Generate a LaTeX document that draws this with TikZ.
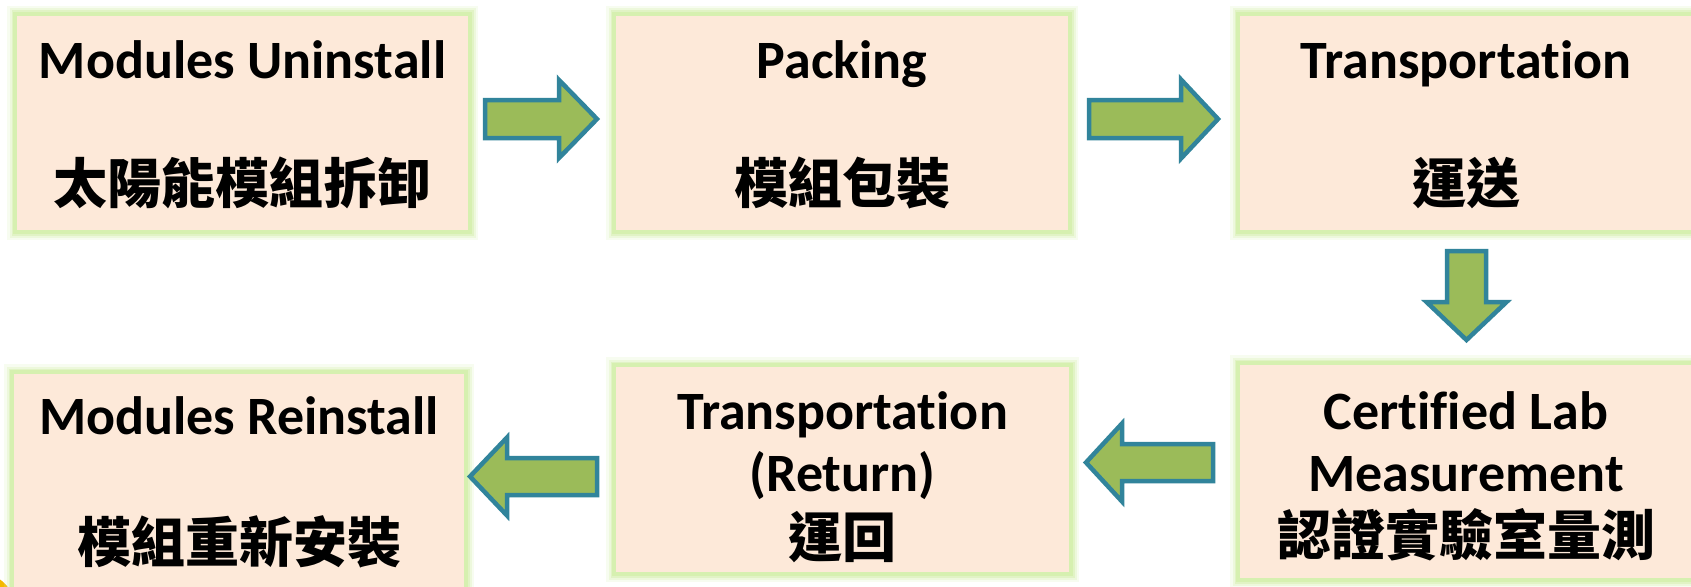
\documentclass[tikz,border=0pt]{standalone}
\usepackage{fontspec}
\setmainfont{Carlito}[Ligatures=NoCommon]
\newfontfamily\cjk{Noto Sans CJK TC}
\definecolor{boxfill}{RGB}{253,233,217}
\definecolor{glowc}{RGB}{214,240,176}
\definecolor{arrfill}{RGB}{155,187,89}
\definecolor{arrline}{RGB}{49,132,155}
\definecolor{blobc}{RGB}{245,185,0}
\newcommand{\harrow}[6]{% tail, base, tip, yc, shaft half, head half
  \draw[blockarrow] (#1,#4-#5) -- (#2,#4-#5) -- (#2,#4-#6) -- (#3,#4) -- (#2,#4+#6) -- (#2,#4+#5) -- (#1,#4+#5) -- cycle;}
\begin{document}
\begin{tikzpicture}[x=1pt,y=-1pt,
  stagebox/.style={fill=boxfill, draw=glowc, line width=3.5pt, inner sep=0pt,
    preaction={draw=glowc, line width=16pt, opacity=0.18},
    preaction={draw=glowc, line width=11pt, opacity=0.3},
    preaction={draw=glowc, line width=7pt, opacity=0.5}},
  entext/.style={font=\bfseries\fontsize{54}{62}\selectfont, anchor=base, inner sep=0pt},
  zhtext/.style={font=\cjk\bfseries\fontsize{54}{62}\selectfont, anchor=base, inner sep=0pt},
  blockarrow/.style={fill=arrfill, draw=arrline, line width=4.5pt, line join=miter}]
\useasboundingbox (0,0) rectangle (1691,586);
\clip (0,0) rectangle (1691,586);
\fill[white] (0,0) rectangle (1691,586);
\fill[blobc] (-18,606) circle (32);
% boxes
\node[stagebox, minimum width=455pt, minimum height=218pt] (b1) at (242.5,123) {};
\node[stagebox, minimum width=456pt, minimum height=218pt] (b2) at (842,123) {};
\node[stagebox, minimum width=456pt, minimum height=218pt] (b3) at (1466,123) {};
\node[stagebox, minimum width=454pt, minimum height=220pt] (b4) at (239,482) {};
\node[stagebox, minimum width=457pt, minimum height=209pt] (b5) at (842.5,469.5) {};
\node[stagebox, minimum width=456pt, minimum height=217pt] (b6) at (1466,471.5) {};
% texts
\node[entext] (t1a) at (242.5,78) {Modules Uninstall};
\node[zhtext] (t1b) at (242.5,203) {太陽能模組拆卸};
\node[entext] (t2a) at (842,78) {Packing};
\node[zhtext] (t2b) at (842,203) {模組包裝};
\node[entext] (t3a) at (1466,78) {Transportation};
\node[zhtext] (t3b) at (1466,203) {運送};
\node[entext] (t4a) at (239,434) {Modules Reinstall};
\node[zhtext] (t4b) at (239,562) {模組重新安裝};
\node[entext] (t5a) at (842.5,429) {Transportation};
\node[entext] (t5b) at (842.5,491) {(Return)};
\node[zhtext] (t5c) at (842.5,557) {運回};
\node[entext] (t6a) at (1466,429) {Certified Lab};
\node[entext] (t6b) at (1466,491) {Measurement};
\node[zhtext] (t6c) at (1466,555) {認證實驗室量測};
% block arrows
\harrow{485}{559}{597}{119}{19}{39}
\harrow{1089}{1181}{1218}{119}{19}{39.5}
\draw[blockarrow] (1447,251) -- (1486,251) -- (1486,302) -- (1506.5,302) -- (1466.5,340) -- (1426.5,302) -- (1447,302) -- cycle;
\harrow{1213}{1122}{1086}{462.5}{18.5}{39}
\harrow{597}{507}{470}{476.5}{18.5}{39}
\end{tikzpicture}
\end{document}
